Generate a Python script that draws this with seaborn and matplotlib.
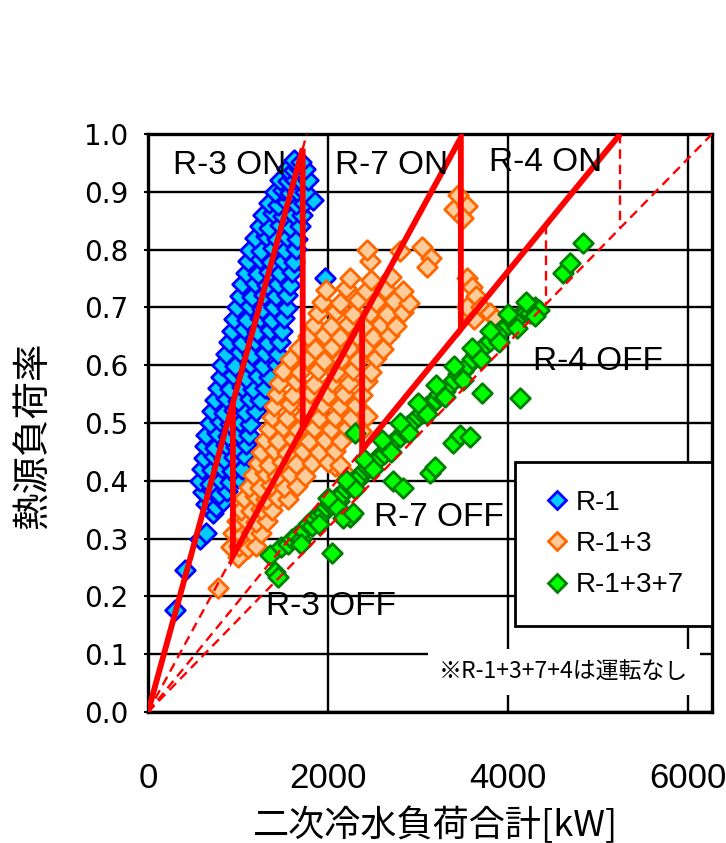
import numpy as np
import pandas as pd
import matplotlib
matplotlib.use("Agg")
import matplotlib.pyplot as plt
from matplotlib.lines import Line2D
import seaborn as sns

# ---------------- data ----------------
# R-1 (single unit)
r1_x = [300, 410, 580, 640, 720,
        650, 760, 830,
        610, 700, 790, 880,
        580, 690, 800, 910, 1000,
        600, 710, 820, 930, 1040,
        620, 730, 845, 960, 1070,
        630, 750, 865, 980, 1090,
        650, 770, 890, 1010, 1120,
        690, 800, 910, 1020, 1130,
        710, 840, 960, 1080, 1200,
        740, 870, 1000, 1130, 1250,
        780, 910, 1045, 1170, 1300,
        810, 950, 1090, 1220, 1350,
        820, 970, 1130, 1280, 1430,
        870, 1020, 1160, 1300, 1440,
        900, 1050, 1190, 1330, 1470,
        930, 1070, 1215, 1360, 1490,
        960, 1100, 1240, 1380, 1510,
        990, 1130, 1265, 1400, 1540,
        1020, 1160, 1290, 1420, 1550,
        1050, 1190, 1320, 1450, 1580,
        1090, 1220, 1345, 1470, 1600,
        1110, 1240, 1370, 1500, 1620,
        1130, 1260, 1390, 1520, 1650,
        1190, 1310, 1430, 1550, 1660,
        1240, 1350, 1465, 1580, 1690,
        1280, 1390, 1500, 1610, 1710,
        1340, 1440, 1540, 1640, 1730, 1830,
        1410, 1500, 1580, 1660, 1750,
        1470, 1560, 1620, 1700, 1780,
        1550, 1620, 1680, 1750,
        1620, 1700,
        1967]
r1_y = [0.176, 0.246, 0.300, 0.310, 0.345,
        0.360, 0.355, 0.365,
        0.380, 0.385, 0.378, 0.382,
        0.400, 0.395, 0.402, 0.398, 0.404,
        0.420, 0.418, 0.423, 0.417, 0.421,
        0.440, 0.443, 0.438, 0.441, 0.444,
        0.460, 0.457, 0.462, 0.459, 0.463,
        0.480, 0.483, 0.478, 0.481, 0.479,
        0.500, 0.503, 0.498, 0.502, 0.499,
        0.520, 0.517, 0.522, 0.519, 0.521,
        0.540, 0.543, 0.538, 0.541, 0.539,
        0.560, 0.558, 0.562, 0.559, 0.561,
        0.580, 0.583, 0.578, 0.581, 0.579,
        0.600, 0.598, 0.602, 0.599, 0.601,
        0.620, 0.623, 0.618, 0.621, 0.619,
        0.640, 0.638, 0.642, 0.639, 0.641,
        0.660, 0.663, 0.658, 0.661, 0.659,
        0.680, 0.678, 0.682, 0.679, 0.681,
        0.700, 0.703, 0.698, 0.701, 0.699,
        0.720, 0.718, 0.722, 0.719, 0.721,
        0.740, 0.743, 0.738, 0.741, 0.739,
        0.760, 0.758, 0.762, 0.759, 0.761,
        0.780, 0.783, 0.778, 0.781, 0.779,
        0.800, 0.798, 0.802, 0.799, 0.801,
        0.820, 0.823, 0.818, 0.821, 0.819,
        0.840, 0.838, 0.842, 0.839, 0.841,
        0.860, 0.863, 0.858, 0.861, 0.859,
        0.880, 0.878, 0.882, 0.879, 0.881, 0.886,
        0.900, 0.903, 0.898, 0.901, 0.899,
        0.920, 0.918, 0.922, 0.919, 0.921,
        0.940, 0.938, 0.942, 0.939,
        0.955, 0.952,
        0.750]

# R-1+3
r13_x = [780, 1000,
         920, 1010, 1110, 1200,
         950, 1050, 1150, 1260,
         990, 1090, 1200, 1320,
         1030, 1140, 1260, 1380,
         1070, 1190, 1310, 1440, 1560,
         1120, 1240, 1370, 1510, 1660,
         1170, 1300, 1430, 1580, 1740, 2080, 2200,
         1220, 1350, 1490, 1650, 1820, 2000, 2140,
         1260, 1400, 1550, 1720, 1900, 2080,
         1300, 1450, 1610, 1790, 1970, 2150,
         1340, 1500, 1670, 1850, 2030, 2210, 2370,
         1380, 1540, 1720, 1900, 2080, 2260, 2430,
         1400, 1580, 1760, 1950, 2130, 2310,
         1430, 1610, 1800, 2000, 2180, 2380,
         1460, 1650, 1850, 2040, 2230, 2430,
         1500, 1690, 1890, 2090, 2280, 2480,
         1580, 1770, 1960, 2150, 2340, 2540,
         1680, 1860, 2040, 2230, 2420, 2610,
         1780, 1960, 2140, 2320, 2500, 2680,
         1840, 2030, 2220, 2410, 2590, 2760,
         1890, 2090, 2280, 2470, 2660, 2840,
         1930, 2140, 2340, 2540, 2730, 2900,
         1980, 2200, 2420, 2630, 2830,
         2250, 2480, 2700,
         2470, 3150, 2430, 2800, 3050, 3100,
         3400, 3550, 3450, 3500,
         3550, 3600, 3650, 3550, 3700, 3800, 3870, 3620]
r13_y = [0.215, 0.268,
         0.285, 0.288, 0.283, 0.287,
         0.310, 0.307, 0.312, 0.309,
         0.330, 0.333, 0.328, 0.331,
         0.350, 0.348, 0.352, 0.349,
         0.370, 0.373, 0.368, 0.371, 0.369,
         0.390, 0.388, 0.392, 0.389, 0.391,
         0.410, 0.413, 0.408, 0.411, 0.409, 0.425, 0.412,
         0.430, 0.428, 0.432, 0.429, 0.431, 0.433, 0.427,
         0.450, 0.453, 0.448, 0.451, 0.449, 0.452,
         0.470, 0.468, 0.472, 0.469, 0.471, 0.468,
         0.490, 0.493, 0.488, 0.491, 0.489, 0.492, 0.487,
         0.510, 0.508, 0.512, 0.509, 0.511, 0.508, 0.512,
         0.530, 0.533, 0.528, 0.531, 0.529, 0.532,
         0.550, 0.548, 0.552, 0.549, 0.551, 0.548,
         0.570, 0.573, 0.568, 0.571, 0.569, 0.572,
         0.590, 0.588, 0.592, 0.589, 0.591, 0.588,
         0.610, 0.613, 0.608, 0.611, 0.609, 0.612,
         0.630, 0.628, 0.632, 0.629, 0.631, 0.628,
         0.650, 0.653, 0.648, 0.651, 0.649, 0.652,
         0.670, 0.668, 0.672, 0.669, 0.671, 0.668,
         0.690, 0.693, 0.688, 0.691, 0.689, 0.692,
         0.710, 0.708, 0.712, 0.709, 0.711, 0.708,
         0.730, 0.733, 0.728, 0.731, 0.729,
         0.750, 0.748, 0.752,
         0.780, 0.785, 0.800, 0.798, 0.805, 0.770,
         0.870, 0.875, 0.895, 0.855,
         0.750, 0.735, 0.720, 0.700, 0.700, 0.690, 0.680, 0.680]

# R-1+3+7
r137_x = [1356, 1411, 1440,
          1480, 1560, 1600, 1650, 1700, 1720, 1780, 1820, 1850, 1900,
          1950, 1980, 2020, 2060, 2100, 2120, 2160, 2200, 2240, 2280,
          2330, 2370, 2400, 2450, 2500, 2540, 2580, 2620, 2660, 2700,
          2750, 2800, 2850, 2880, 2920, 2960, 3000, 3050, 3100, 3150,
          3200, 3240, 3300, 3350, 3400, 3450, 3500, 3560, 3600, 3650,
          3700, 3760, 3800, 3860, 3900, 3950, 4000, 4060, 4100, 4150,
          4200, 4250, 4300, 4350,
          1700, 1900, 2100, 2300, 2500, 2700, 2900, 3100, 3300, 3500,
          3700, 3900, 4100, 4300,
          2000, 2200, 2400, 2600, 2800, 3000, 3200, 3400, 3600, 3800,
          4000, 4200,
          2044, 2244, 2722, 2833, 3133, 3189, 3389, 3467, 3578, 3711,
          4133, 2300, 2167, 2278, 4611, 4689, 4833]
r137_y = [0.272, 0.243, 0.233,
          0.285, 0.290, 0.300, 0.305, 0.300, 0.315, 0.325, 0.322, 0.335, 0.340,
          0.345, 0.355, 0.360, 0.362, 0.372, 0.365, 0.378, 0.385, 0.392, 0.400,
          0.402, 0.410, 0.418, 0.423, 0.430, 0.438, 0.442, 0.447, 0.456, 0.463,
          0.470, 0.476, 0.486, 0.494, 0.500, 0.505, 0.512, 0.518, 0.530, 0.534,
          0.540, 0.550, 0.556, 0.565, 0.575, 0.585, 0.590, 0.600, 0.610, 0.620,
          0.628, 0.636, 0.642, 0.652, 0.658, 0.664, 0.670, 0.675, 0.682, 0.688,
          0.692, 0.690, 0.700, 0.696,
          0.290, 0.325, 0.355, 0.385, 0.420, 0.450, 0.482, 0.515, 0.545, 0.575,
          0.610, 0.640, 0.665, 0.685,
          0.370, 0.402, 0.438, 0.470, 0.500, 0.535, 0.565, 0.598, 0.630, 0.660,
          0.688, 0.710,
          0.275, 0.337, 0.400, 0.388, 0.413, 0.424, 0.465, 0.480, 0.476, 0.552,
          0.543, 0.483, 0.335, 0.344, 0.760, 0.777, 0.811]

series_names = ["R-1", "R-1+3", "R-1+3+7"]
fill_colors = ["#00CCFF", "#FFCC99", "#00FF00"]
edge_colors = ["#0000FF", "#FF6600", "#008000"]

# unit-combination capacities [kW]: R-1, R-1+3, R-1+3+7, R-1+3+7+4
capacities = [1765, 3500, 5250, 6270]
on_thresholds = [1720, 3478, 5250]    # R-3 ON, R-7 ON, R-4 ON
off_thresholds = [944, 2380, 4422]    # R-3 OFF, R-7 OFF, R-4 OFF

region_labels = ["R-3 ON", "R-7 ON", "R-4 ON", "R-4 OFF", "R-7 OFF", "R-3 OFF"]
region_x = [911, 2711, 4422, 5000, 3233, 2033]
region_y = [0.946, 0.946, 0.951, 0.606, 0.336, 0.182]

x_ticks = [0, 2000, 4000, 6000]
y_ticks = [0.0, 0.1, 0.2, 0.3, 0.4, 0.5, 0.6, 0.7, 0.8, 0.9, 1.0]
x_label = "二次冷水負荷合計[kW]"
y_label = "熱源負荷率"
note_text = "※R-1+3+7+4は運転なし"

# ---------------- plot ----------------
sns.set_style("white")
plt.rcParams["font.family"] = ["Liberation Sans", "DejaVu Sans"]
plt.rcParams["axes.unicode_minus"] = False
plt.rcParams["text.color"] = "black"
plt.rcParams["axes.labelcolor"] = "black"
plt.rcParams["xtick.color"] = "black"
plt.rcParams["ytick.color"] = "black"

fig = plt.figure(figsize=(7.26, 8.43), dpi=100)
ax = fig.add_axes([148 / 726, (843 - 712) / 843, 564 / 726, 578 / 843])

xs = [r1_x, r13_x, r137_x]
ys = [r1_y, r13_y, r137_y]
for name, x, y, fc, ec in zip(series_names, xs, ys, fill_colors, edge_colors):
    df = pd.DataFrame({"x": x, "y": y})
    sns.scatterplot(data=df, x="x", y="y", marker="D", s=100, color=fc,
                    edgecolor=ec, linewidth=2.0, ax=ax, zorder=3, legend=False)

red = "#FF0000"
dash = (0, (4, 2.5))
# dashed capacity lines from origin
for cap in capacities:
    ax.plot([0, cap], [0, 1.0], color=red, lw=1.7, ls=dash, zorder=4)
# dashed R-4 switching lines (no R-4 operation)
for thr in [on_thresholds[2], off_thresholds[2]]:
    ax.plot([thr, thr], [thr / capacities[2], thr / capacities[3]],
            color=red, lw=1.7, ls=dash, zorder=4)

# thick switching paths
c1, c2, c3, _ = capacities
on1, on2, _ = on_thresholds
off1, off2, _ = off_thresholds
on_path_x = [0, on1, on1, on2, on2, c3]
on_path_y = [0, on1 / c1, on1 / c2, on2 / c2, on2 / c3, 1.0]
off_path_x = [off1, off1, off2, off2, on2]
off_path_y = [off1 / c1, off1 / c2, off2 / c2, off2 / c3, on2 / c3]
ax.plot(on_path_x, on_path_y, color=red, lw=4.2, zorder=5,
        solid_joinstyle="miter", solid_capstyle="butt")
ax.plot(off_path_x, off_path_y, color=red, lw=4.2, zorder=5,
        solid_joinstyle="miter", solid_capstyle="butt")

for t, x, y in zip(region_labels, region_x, region_y):
    ax.text(x, y, t, fontsize=24, family=["Liberation Sans", "DejaVu Sans"],
            ha="center", va="center", zorder=6, color="black")

ax.text(4620, 0.069, note_text, fontsize=16.5,
        family=["Noto Sans CJK JP", "DejaVu Sans"], ha="center", va="center",
        zorder=8, bbox=dict(boxstyle="square,pad=0.5", fc="white", ec="none"))

handles = [Line2D([0], [0], marker="D", ls="none", markersize=9,
                  markerfacecolor=fc, markeredgecolor=ec, markeredgewidth=2.0)
           for fc, ec in zip(fill_colors, edge_colors)]
leg = ax.legend(handles, series_names, loc="upper right",
                bbox_to_anchor=(1.0, 0.4325), borderaxespad=0,
                frameon=True, fancybox=False, edgecolor="black", framealpha=1,
                prop={"family": "Liberation Sans", "size": 20},
                handlelength=1.0, handletextpad=0.2, labelspacing=0.55,
                borderpad=1.0)
leg.get_frame().set_linewidth(2.0)
leg.set_zorder(9)

ax.set_xlim(0, capacities[3])
ax.set_ylim(0, 1.0)
ax.set_xticks(x_ticks)
ax.set_yticks(y_ticks)
ax.set_xticklabels([str(v) for v in x_ticks])
ax.set_yticklabels([f"{v:.1f}" for v in y_ticks])
for lab in ax.get_xticklabels():
    lab.set_family(["Liberation Sans", "DejaVu Sans"])
    lab.set_fontsize(25)
    lab.set_color("black")
for lab in ax.get_yticklabels():
    lab.set_family(["DejaVu Sans"])
    lab.set_fontsize(20)
    lab.set_color("black")
ax.tick_params(axis="x", length=0, pad=36)
ax.tick_params(axis="y", length=3, width=1.5, pad=11, left=True)

ax.grid(True, color="black", lw=1.7, zorder=0)
ax.set_axisbelow(True)
for sp in ax.spines.values():
    sp.set_color("black")
    sp.set_linewidth(2.4)
    sp.set_visible(True)

ax.set_xlabel(x_label, fontsize=26, family=["Noto Sans CJK JP", "DejaVu Sans"],
              color="black")
ax.set_ylabel(y_label, fontsize=27, family=["Noto Sans CJK JP", "DejaVu Sans"],
              color="black")
ax.xaxis.set_label_coords(0.509, -0.163)
ax.yaxis.set_label_coords(-0.170, 0.479)

fig.savefig("out.png", dpi=100, facecolor="white")
